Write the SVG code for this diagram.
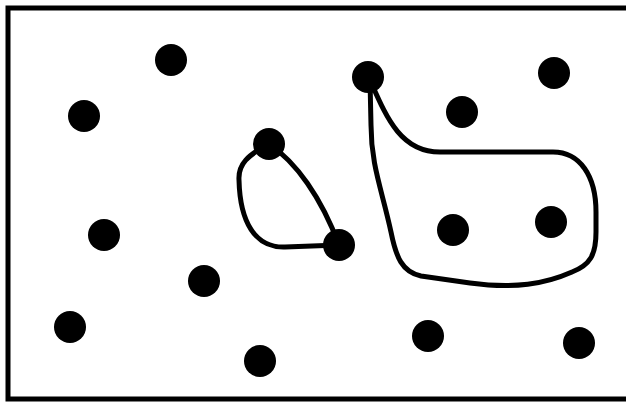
<svg xmlns="http://www.w3.org/2000/svg" width="626" height="402" viewBox="0 0 626 402">
<style>
.frame{fill:#fff;stroke:#000;stroke-width:5}
.dot{fill:#000}
.curve{fill:none;stroke:#000;stroke-width:5;stroke-linejoin:round;stroke-linecap:round}
</style>
<rect x="0" y="0" width="626" height="402" fill="#fff"/>
<rect class="frame" x="8" y="8" width="640" height="391"/>
<g id="connectors">
<path class="curve" d="M269,144 C296,162 321,197 339,245 L285,247 C255,248 240,222 239,180 C238,164 248,155 269,144 Z"/>
<path class="curve" d="M370,80 C386,116 400,152 440,152 L553,152 C580,152 596,176 596,212 L596,232 C596,255 590,265 572,272 C545,284 515,289 470,283 L421,276 C402,272 396,257 391,232 C382,190 371,165 371,125 L370,80"/>
</g>
<g id="n1"><circle class="dot" cx="171" cy="60" r="16"/></g>
<g id="n2"><circle class="dot" cx="84" cy="116" r="16"/></g>
<g id="n3"><circle class="dot" cx="368" cy="77" r="16"/></g>
<g id="n4"><circle class="dot" cx="554" cy="73" r="16"/></g>
<g id="n5"><circle class="dot" cx="462" cy="112" r="16"/></g>
<g id="n6"><circle class="dot" cx="269" cy="144" r="16"/></g>
<g id="n7"><circle class="dot" cx="104" cy="235" r="16"/></g>
<g id="n8"><circle class="dot" cx="339" cy="245" r="16"/></g>
<g id="n9"><circle class="dot" cx="453" cy="230" r="16"/></g>
<g id="n10"><circle class="dot" cx="551" cy="222" r="16"/></g>
<g id="n11"><circle class="dot" cx="204" cy="281" r="16"/></g>
<g id="n12"><circle class="dot" cx="70" cy="327" r="16"/></g>
<g id="n13"><circle class="dot" cx="260" cy="361" r="16"/></g>
<g id="n14"><circle class="dot" cx="428" cy="336" r="16"/></g>
<g id="n15"><circle class="dot" cx="579" cy="343" r="16"/></g>
</svg>
